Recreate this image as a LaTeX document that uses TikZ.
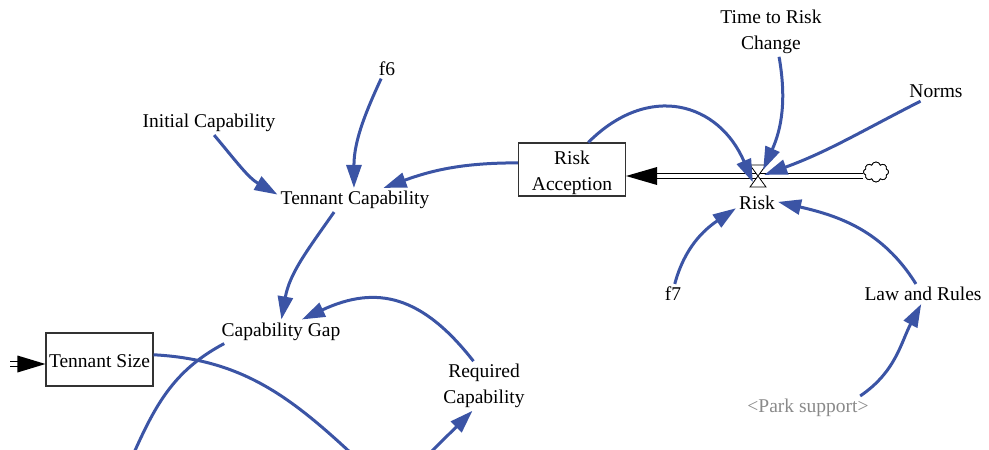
\documentclass[tikz,border=0pt]{standalone}
\usepackage{fontspec}
\setmainfont{Liberation Serif}
\usetikzlibrary{arrows.meta,shapes.symbols}
\definecolor{linkblue}{RGB}{59,84,165}
\definecolor{shadowgray}{RGB}{138,138,138}
\begin{document}
\begin{tikzpicture}[x=1pt,y=1pt,
  txt/.style={font=\fontsize{19.5}{25.5}\selectfont},
  lbl/.style={txt, inner sep=3pt, align=center, text=black},
  stock/.style={txt, draw=black!80, line width=1.1pt, minimum width=107pt,
    minimum height=53pt, inner sep=1pt, align=center, fill=white},
  linkplain/.style={draw=linkblue, line width=3pt},
  link/.style={linkplain, -{Triangle[length=23pt,width=15pt]}},
  pipe/.style={draw=black, line width=0.9pt, double=white, double distance=4.5pt},
  valvebox/.style={inner sep=0pt, minimum size=12pt},
  valveline/.style={draw=black, line width=0.8pt, fill=white},
  source/.style={cloud, cloud puffs=8, cloud ignores aspect, draw=black,
    line width=0.8pt, fill=white, minimum width=25pt, minimum height=20pt, inner sep=0pt},
]
\useasboundingbox (0,0) rectangle (989,-450);
\clip (0,0) rectangle (989,-450);

% auxiliaries and variables
\node[lbl] (trc)   at (771,-32)    {Time to Risk\\Change};
\node[lbl] (norms) at (936,-91.5)  {Norms};
\node[lbl] (f6)    at (387,-68.5)  {f6};
\node[lbl] (ic)    at (209,-123)   {Initial Capability};
\node[lbl] (tc)    at (355,-200)   {Tennant Capability};
\node[lbl] (risk)  at (757,-203)   {Risk};
\node[lbl] (f7)    at (673,-294)   {f7};
\node[lbl] (law)   at (923,-294)   {Law and Rules};
\node[lbl, text=shadowgray] (park) at (808,-408) {<Park support>};
\node[lbl] (cg)    at (281,-331.5) {Capability Gap};
\node[lbl] (rc)    at (484,-386)   {Required\\Capability};

% stocks (text sits slightly below the box centre)
\node[stock] (ra) at (572,-169.5)
  {\raisebox{-3pt}[\height][\depth]{\begin{tabular}{@{}c@{}}Risk\\Acception\end{tabular}}};
\node[stock] (ts) at (99.5,-359.5) {\raisebox{-2pt}[\height][\depth]{Tennant Size}};

% flow into Risk Acception
\node[valvebox] (valve) at (758,-176) {};
\node[source] (cloud) at (876,-172) {};
\draw[pipe, shorten >=29pt] (valve -| cloud.west) -- (valve -| ra.east);
\fill[black] (valve -| ra.east) -- ++(31,9) -- ++(0,-18) -- cycle;
\draw[valveline] (valve.center) ++(-8,11) -- ++(16,0) -- ++(-16,-22) -- ++(16,0) -- cycle;
\node[source] at (cloud) {};

% flow into Tennant Size
\coordinate (tsrc) at (10,-364);
\draw[pipe, shorten >=26pt] (tsrc) -- (tsrc -| ts.west);
\fill[black] (tsrc -| ts.west) -- ++(-28,8.5) -- ++(0,-17) -- cycle;

% free ends of the links leaving the bottom edge
\coordinate (gapend)  at (133,-455);
\coordinate (sizeend) at (353,-455);
\coordinate (capin)   at (428,-455);

% causal links
\draw[link] (ic.-67) to[out=-50,in=150] (tc.176);
\draw[link] (f6.-120) to[out=-115,in=90] (tc.95);
\draw[link] (ra.173) to[out=180,in=20] (tc.23);
\draw[link] (tc.-150) to[out=-125,in=80] (cg.88);
\draw[link] (rc.113) to[out=128,in=25,looseness=1.2] (cg.30);
\draw[linkplain] (cg.-168) to[out=208,in=66] (gapend);
\draw[linkplain] (ts.5) to[out=-3,in=137] (sizeend);
\draw[link] (capin) -- (rc.-115);
\draw[link] (ra.59) to[out=45,in=113,looseness=1.3] (valve.-130);
\draw[link] (trc.-72) to[out=-80,in=66] (valve.50);
\draw[link] (norms.-148) to[out=207,in=20] (valve.10);
\draw[link] (f7.80) to[out=75,in=-146] (risk.-166);
\draw[link] (law.125) to[out=122,in=-13] (risk.3);
\draw[link] (park.13) to[out=34,in=-118] (law.-100);
\end{tikzpicture}
\end{document}
